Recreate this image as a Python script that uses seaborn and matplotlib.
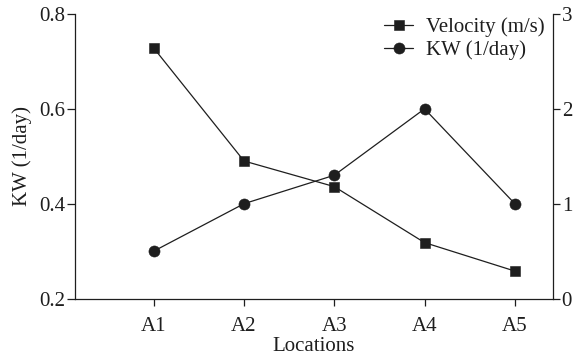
import matplotlib
matplotlib.use("Agg")
import matplotlib.pyplot as plt
import seaborn as sns
import pandas as pd

locations = ["A1", "A2", "A3", "A4", "A5"]
velocity = [2.64, 1.45, 1.18, 0.59, 0.29]
kw = [0.30, 0.40, 0.46, 0.60, 0.40]
left_ticks = [0.2, 0.4, 0.6, 0.8]
right_ticks = [0, 1, 2, 3]

sns.set_theme(style="ticks")
plt.rcParams["font.family"] = ["Liberation Serif", "DejaVu Serif"]
plt.rcParams["mathtext.fontset"] = "stix"

FS = 15
INK = "#1e1e1e"

df = pd.DataFrame({"Locations": locations, "Velocity": velocity, "KW": kw})

fig = plt.figure(figsize=(5.79, 3.58), dpi=100)
ax = fig.add_axes([0.1295, 0.166, 0.9546 - 0.1295, 0.961 - 0.166])
ax2 = ax.twinx()

sns.lineplot(data=df, x="Locations", y="KW", ax=ax, color=INK, marker="o",
             markersize=8, linewidth=0.9, markeredgecolor=INK, markeredgewidth=0.4,
             label="KW (1/day)", legend=False, sort=False)
sns.lineplot(data=df, x="Locations", y="Velocity", ax=ax2, color=INK, marker="s",
             markersize=6.5, linewidth=0.9, markeredgecolor=INK, markeredgewidth=0.4,
             label="Velocity (m/s)", legend=False, sort=False)

ax.set_ylim(0.2, 0.8)
ax.set_yticks(left_ticks)
ax.set_yticklabels([f"{t:.1f}" for t in left_ticks])
ax2.set_ylim(0, 3)
ax2.set_yticks(right_ticks)
ax2.set_yticklabels([str(t) for t in right_ticks])
ax.set_xlim(-0.873, 4.42)
ax.set_xticks(range(len(locations)))
ax.set_xticklabels(locations)

for a in (ax, ax2):
    a.spines["top"].set_visible(False)
    for s in a.spines.values():
        s.set_linewidth(0.9)
        s.set_color(INK)
    a.tick_params(direction="out", length=6, width=0.9, color=INK,
                  labelsize=FS, labelcolor=INK, pad=1)
ax.tick_params(axis="x", length=5, pad=8.5)
ax2.tick_params(axis="y", length=5, pad=1.5)
ax2.spines["left"].set_visible(False)
ax2.spines["bottom"].set_visible(False)
ax.spines["right"].set_visible(False)

ax.set_ylabel("KW (1/day)", fontsize=FS, color=INK, labelpad=5)
ax.set_xlabel("Locations", fontsize=FS, color=INK, labelpad=0.5)
ax2.set_ylabel("")

h1, l1 = ax2.get_legend_handles_labels()
h2, l2 = ax.get_legend_handles_labels()
leg = ax2.legend(h1 + h2, l1 + l2, loc="upper right", bbox_to_anchor=(1.0, 1.018),
                 frameon=False, fontsize=FS, handlelength=1.4, handletextpad=0.6,
                 labelspacing=0.18, labelcolor=INK, borderaxespad=0.0)

fig.savefig("out.png", dpi=100)
